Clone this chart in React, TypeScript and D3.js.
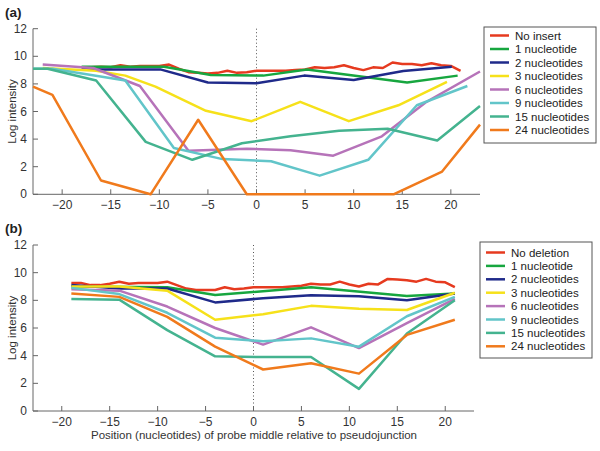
import React from "react";
import * as d3 from "d3";

type Pt = [number, number];

const xTicks = [-20, -15, -10, -5, 0, 5, 10, 15, 20];
const yTicks = [0, 2, 4, 6, 8, 10, 12];

const colors = ["#e63a1f", "#17a63f", "#1f2a8a", "#f6e11a", "#b673b9", "#62c5c9", "#44b38f", "#f07a1c"];

const legendA = ["No insert", "1 nucleotide", "2 nucleotides", "3 nucleotides", "6 nucleotides", "9 nucleotides", "15 nucleotides", "24 nucleotides"];
const legendB = ["No deletion", "1 nucleotide", "2 nucleotides", "3 nucleotides", "6 nucleotides", "9 nucleotides", "15 nucleotides", "24 nucleotides"];

// Panel (a)
const redAx = [-18, -17, -16, -15, -14, -13, -12, -11, -10, -9, -8, -7, -6, -5, -4, -3, -2, -1, 0, 1, 2, 3, 4, 5, 6, 7, 8, 9, 10, 11, 12, 13, 14, 15, 16, 17, 18, 19, 20, 21];
const redAy = [9.2, 9.2, 9.25, 9.2, 9.35, 9.25, 9.3, 9.3, 9.3, 9.4, 9.1, 8.85, 8.8, 8.75, 8.8, 8.95, 8.8, 8.85, 8.95, 8.95, 8.95, 8.95, 9.0, 9.05, 9.2, 9.15, 9.2, 9.35, 9.15, 9.0, 9.2, 9.15, 9.55, 9.45, 9.45, 9.35, 9.5, 9.35, 9.3, 8.95];
const greenA: Pt[] = [[-18, 9.25], [-9.5, 9.25], [-4.7, 8.65], [0.7, 8.6], [5.2, 9.05], [15.5, 8.1], [20.7, 8.6]];
const blueA: Pt[] = [[-18, 9.05], [-9.9, 9.05], [-5, 8.1], [0, 8.05], [4.9, 8.6], [10, 8.28], [15.1, 8.93], [20.1, 9.25]];
const yellowA: Pt[] = [[-22, 9.15], [-16.5, 8.95], [-13.5, 8.6], [-10.4, 7.8], [-5.2, 6.05], [-0.5, 5.3], [4.5, 6.7], [9.5, 5.3], [14.6, 6.45], [19.6, 8.15]];
const purpleA: Pt[] = [[-22, 9.4], [-16.8, 9.15], [-12, 7.85], [-7, 3.15], [-1, 3.3], [3.5, 3.2], [7.9, 2.8], [12.9, 4.2], [17.5, 6.7], [23, 8.9]];
const cyanA: Pt[] = [[-23, 9.1], [-21, 9.1], [-13.5, 8.25], [-8.5, 3.35], [-3.5, 2.55], [1.5, 2.4], [6.5, 1.35], [11.5, 2.5], [16.5, 6.45], [21.7, 7.85]];
const tealA: Pt[] = [[-23, 9.1], [-21.5, 9.1], [-16.5, 8.25], [-11.4, 3.8], [-6.6, 2.5], [-1.5, 3.7], [3.5, 4.2], [8.5, 4.6], [13.5, 4.75], [18.6, 3.9], [23, 6.4]];
const orangeA: Pt[] = [[-23, 7.8], [-21, 7.2], [-16, 1.0], [-10.9, 0], [-6, 5.4], [-1, 0], [14.1, 0], [19.1, 1.65], [23, 5.05]];

// Panel (b)
const redBx = [-19, -18, -17, -16, -15, -14, -13, -12, -11, -10, -9, -8, -7, -6, -5, -4, -3, -2, -1, 0, 1, 2, 3, 4, 5, 6, 7, 8, 9, 10, 11, 12, 13, 14, 15, 16, 17, 18, 19, 20, 21];
const redBy = [9.25, 9.25, 9.1, 9.1, 9.2, 9.35, 9.2, 9.25, 9.25, 9.25, 9.35, 9.1, 8.85, 8.75, 8.75, 8.75, 8.95, 8.8, 8.85, 8.95, 8.95, 8.95, 8.95, 9.0, 9.05, 9.2, 9.15, 9.15, 9.35, 9.15, 9.0, 9.2, 9.15, 9.55, 9.5, 9.45, 9.35, 9.55, 9.35, 9.3, 8.95];
const greenB: Pt[] = [[-19, 9.0], [-9, 8.95], [-4, 8.38], [6, 8.95], [16, 8.32], [21, 8.5]];
const blueB: Pt[] = [[-19, 9.1], [-14, 8.85], [-9, 8.85], [-4, 7.85], [1, 8.15], [6, 8.37], [11, 8.3], [16, 8.0], [21, 8.5]];
const yellowB: Pt[] = [[-19, 9.0], [-14, 9.0], [-9, 8.7], [-4, 6.6], [1, 7.0], [6, 7.6], [11, 7.4], [16, 7.3], [21, 8.55]];
const purpleB: Pt[] = [[-19, 8.8], [-14, 8.7], [-9, 7.55], [-4, 6.0], [1, 4.8], [6, 6.05], [11, 4.55], [16, 6.35], [21, 8.1]];
const cyanB: Pt[] = [[-19, 8.9], [-14, 8.45], [-9, 7.1], [-4, 5.3], [1, 5.05], [6, 5.25], [11, 4.65], [16, 6.85], [21, 8.25]];
const tealB: Pt[] = [[-19, 8.1], [-14, 8.05], [-9, 5.85], [-4, 3.95], [1, 3.9], [6, 3.9], [11, 1.6], [16, 5.6], [21, 8.0]];
const orangeB: Pt[] = [[-19, 8.5], [-14, 8.25], [-9, 6.8], [-4, 4.65], [1, 3.0], [6, 3.45], [11, 2.7], [16, 5.5], [21, 6.6]];

const zip = (xs: number[], ys: number[]): Pt[] => xs.map((x, i) => [x, ys[i]]);

const seriesA: Pt[][] = [zip(redAx, redAy), greenA, blueA, yellowA, purpleA, cyanA, tealA, orangeA];
const seriesB: Pt[][] = [zip(redBx, redBy), greenB, blueB, yellowB, purpleB, cyanB, tealB, orangeB];

const FONT = "'Liberation Sans', Arial, Helvetica, sans-serif";

interface PanelProps {
  label: string;
  series: Pt[][];
  names: string[];
  x0: number; x1: number; yBottom: number; yTop: number;
  legend: { x: number; y: number; w: number; h: number; row0: number; step: number };
}

function Panel({ label, series, names, x0, x1, yBottom, yTop, legend }: PanelProps) {
  const x = d3.scaleLinear().domain([-23, 23]).range([x0, x1]);
  const y = d3.scaleLinear().domain([0, 12]).range([yBottom, yTop]);
  const line = d3.line<Pt>().x((d) => x(d[0])).y((d) => y(d[1]));
  const axisColor = "#666";
  const textColor = "#333";
  return (
    <g>
      <text x={5} y={yTop - 12} fontFamily={FONT} fontWeight="bold" fontSize={13.5} fill="#222">{label}</text>
      <text transform={`translate(16, ${(yTop + yBottom) / 2}) rotate(-90)`} textAnchor="middle" fontFamily={FONT} fontSize={11.5} fill={textColor}>Log intensity</text>
      {/* dotted zero line */}
      <line x1={x(0)} x2={x(0)} y1={y(12)} y2={y(0)} stroke="#555" strokeWidth={1} strokeDasharray="1,2.5" />
      {/* axes */}
      <line x1={x0} x2={x0} y1={y(12)} y2={yBottom} stroke={axisColor} strokeWidth={1} />
      <line x1={x0} x2={x1} y1={yBottom} y2={yBottom} stroke={axisColor} strokeWidth={1} />
      {yTicks.map((t) => (
        <g key={"y" + t}>
          <line x1={x0} x2={x0 + 5} y1={y(t)} y2={y(t)} stroke={axisColor} />
          <text x={x0 - 6} y={y(t) + 4} textAnchor="end" fontFamily={FONT} fontSize={12} fill={textColor}>{t}</text>
        </g>
      ))}
      {xTicks.map((t) => (
        <g key={"x" + t}>
          <line x1={x(t)} x2={x(t)} y1={yBottom} y2={yBottom - 5} stroke={axisColor} />
          <text x={x(t)} y={yBottom + 15} textAnchor="middle" fontFamily={FONT} fontSize={12} fill={textColor}>{t < 0 ? "\u2212" + Math.abs(t) : t}</text>
        </g>
      ))}
      {series.map((s, i) => (
        <path key={"s" + i} d={line(s) || ""} fill="none" stroke={colors[i]} strokeWidth={2.5} strokeLinejoin="round" />
      ))}
      <rect x={legend.x} y={legend.y} width={legend.w} height={legend.h} fill="white" stroke="#555" strokeWidth={1} />
      {names.map((n, i) => {
        const cy = legend.row0 + i * legend.step;
        return (
          <g key={"l" + i}>
            <line x1={legend.x + 6} x2={legend.x + 25} y1={cy} y2={cy} stroke={colors[i]} strokeWidth={2.5} />
            <text x={legend.x + 31} y={cy + 4} fontFamily={FONT} fontSize={11.5} fill="#222">{n}</text>
          </g>
        );
      })}
    </g>
  );
}

export default function App() {
  return (
    <svg width={600} height={451} style={{ position: "absolute", left: 0, top: 0, background: "white" }}>
      <rect width={600} height={451} fill="white" />
      <Panel label="(a)" series={seriesA} names={legendA} x0={33} x1={480} yBottom={194.3} yTop={28.7}
        legend={{ x: 484, y: 27, w: 112, h: 116, row0: 35.5, step: 13.5 }} />
      <Panel label="(b)" series={seriesB} names={legendB} x0={33} x1={474} yBottom={411} yTop={245}
        legend={{ x: 480, y: 242, w: 112, h: 116, row0: 252.5, step: 13.4 }} />
      <text x={254} y={439} textAnchor="middle" fontFamily={FONT} fontSize={11.5} fill="#333">Position (nucleotides) of probe middle relative to pseudojunction</text>
    </svg>
  );
}
